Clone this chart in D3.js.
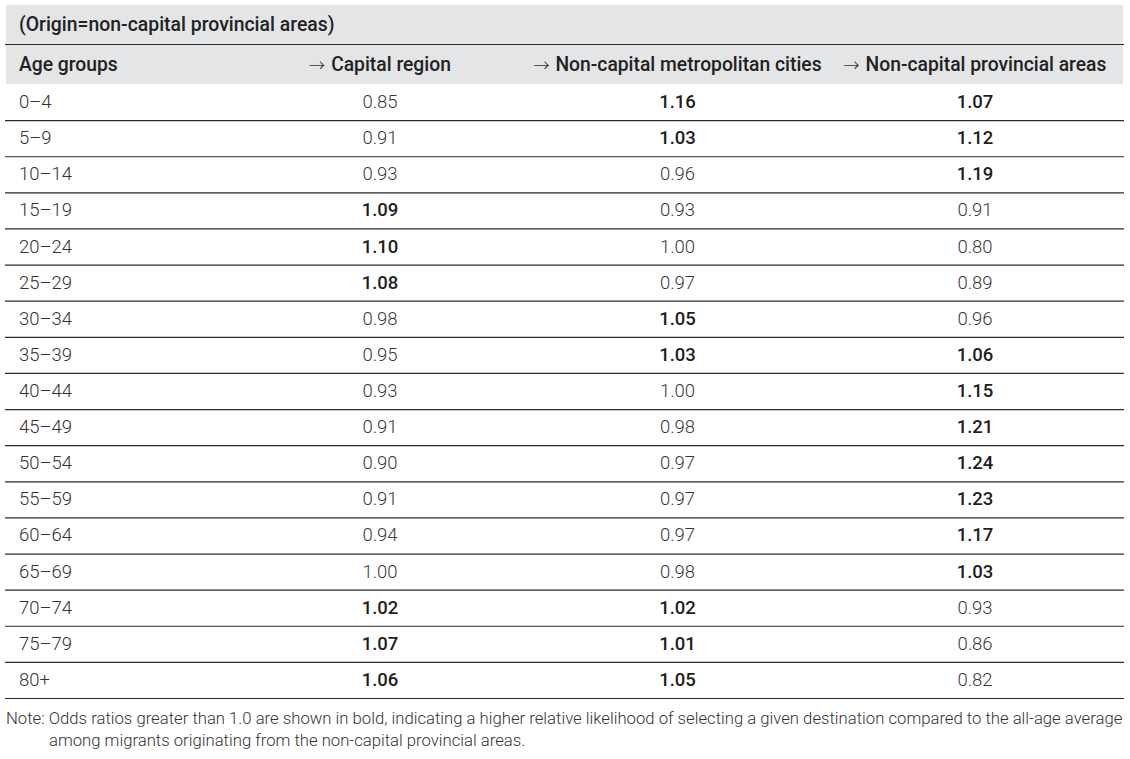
<!DOCTYPE html>
<html>
<head>
<meta charset="utf-8">
<script src="https://cdn.jsdelivr.net/npm/d3@7"></script>
<style>
  body { margin: 0; background: #fff; }
  svg { display: block; font-family: Roboto, "Noto Sans", sans-serif; }
</style>
</head>
<body>
<script>
// table content
const title = "(Origin=non-capital provincial areas)";
const ageGroups = ["0–4", "5–9", "10–14", "15–19", "20–24", "25–29", "30–34", "35–39",
  "40–44", "45–49", "50–54", "55–59", "60–64", "65–69", "70–74", "75–79", "80+"];
const destinations = ["Capital region", "Non-capital metropolitan cities", "Non-capital provincial areas"];
const capitalRegion = [0.85, 0.91, 0.93, 1.09, 1.10, 1.08, 0.98, 0.95, 0.93, 0.91, 0.90, 0.91, 0.94, 1.00, 1.02, 1.07, 1.06];
const metroCities = [1.16, 1.03, 0.96, 0.93, 1.00, 0.97, 1.05, 1.03, 1.00, 0.98, 0.97, 0.97, 0.97, 0.98, 1.02, 1.01, 1.05];
const provincialAreas = [1.07, 1.12, 1.19, 0.91, 0.80, 0.89, 0.96, 1.06, 1.15, 1.21, 1.24, 1.23, 1.17, 1.03, 0.93, 0.86, 0.82];
const noteLines = [
  "Note: Odds ratios greater than 1.0 are shown in bold, indicating a higher relative likelihood of selecting a given destination compared to the all-age average",
  "among migrants originating from the non-capital provincial areas."
];

const series = [capitalRegion, metroCities, provincialAreas];

let width = 1130, height = 759;
let left = 5, right = 1124;

let svg = d3.select("body").append("svg")
  .attr("width", width)
  .attr("height", height);

// rows of the body
let yScale = d3.scaleBand()
  .domain(ageGroups)
  .range([84, 698]);

// column centres for the three destination columns
let xScale = d3.scalePoint()
  .domain(destinations)
  .range([380, 975]);

// grey band behind the title + header
svg.append("rect")
  .attr("x", left + 1).attr("y", 5)
  .attr("width", right - left - 2).attr("height", 79)
  .attr("fill", "#e4e5e7");

svg.append("line")
  .attr("x1", left).attr("x2", right)
  .attr("y1", 44.5).attr("y2", 44.5)
  .attr("stroke", "#2b2b2b").attr("stroke-width", 1.2);

svg.append("text")
  .attr("x", 19).attr("y", 24.5)
  .attr("dominant-baseline", "central")
  .attr("font-size", 19.4).attr("font-weight", 500)
  .attr("fill", "#222")
  .text(title);

svg.append("text")
  .attr("x", 19).attr("y", 64)
  .attr("dominant-baseline", "central")
  .attr("font-size", 19.3).attr("font-weight", 500)
  .attr("fill", "#222")
  .text("Age groups");

// header: thin arrow (CJK font gives a full-width arrow) then the label
let heads = svg.selectAll(".colhead")
  .data(destinations)
  .enter().append("text")
  .attr("class", "colhead")
  .attr("x", d => xScale(d))
  .attr("y", 70.5)
  .attr("text-anchor", "middle")
  .attr("font-size", 19.3).attr("font-weight", 500)
  .attr("fill", "#222");

heads.append("tspan")
  .attr("font-family", "Noto Sans CJK KR")
  .attr("font-weight", 300)
  .attr("font-size", 16)
  .attr("fill", "#333")
  .text("→");

heads.append("tspan")
  .attr("dx", 6)
  .text(d => d);

// body rows
let rows = svg.selectAll(".row")
  .data(ageGroups)
  .enter().append("g")
  .attr("class", "row")
  .attr("transform", d => `translate(0,${yScale(d)})`);

rows.append("line")
  .attr("x1", left).attr("x2", right)
  .attr("y1", yScale.bandwidth() + 0.5).attr("y2", yScale.bandwidth() + 0.5)
  .attr("stroke", "#2b2b2b").attr("stroke-width", 1.2);

rows.append("text")
  .attr("x", 19)
  .attr("y", yScale.bandwidth() / 2)
  .attr("dominant-baseline", "central")
  .attr("font-size", 18.5).attr("font-weight", 300)
  .attr("fill", "#333")
  .text(d => d);

rows.selectAll(".cell")
  .data((d, i) => series.map((s, j) => ({ col: destinations[j], v: s[i] })))
  .enter().append("text")
  .attr("class", "cell")
  .attr("x", d => xScale(d.col))
  .attr("y", yScale.bandwidth() / 2)
  .attr("text-anchor", "middle")
  .attr("dominant-baseline", "central")
  .attr("font-size", 18.5)
  .attr("font-weight", d => d.v > 1 ? 500 : 300)
  .attr("fill", d => d.v > 1 ? "#1e1e1e" : "#3a3a3a")
  .text(d => d.v.toFixed(2));

// note under the table
svg.selectAll(".note")
  .data(noteLines)
  .enter().append("text")
  .attr("class", "note")
  .attr("x", (d, i) => i === 0 ? 6 : 49)
  .attr("y", (d, i) => 718 + i * 22)
  .attr("dominant-baseline", "central")
  .attr("font-size", 16.7).attr("font-weight", 300)
  .attr("fill", "#333")
  .text(d => d);
</script>
</body>
</html>
